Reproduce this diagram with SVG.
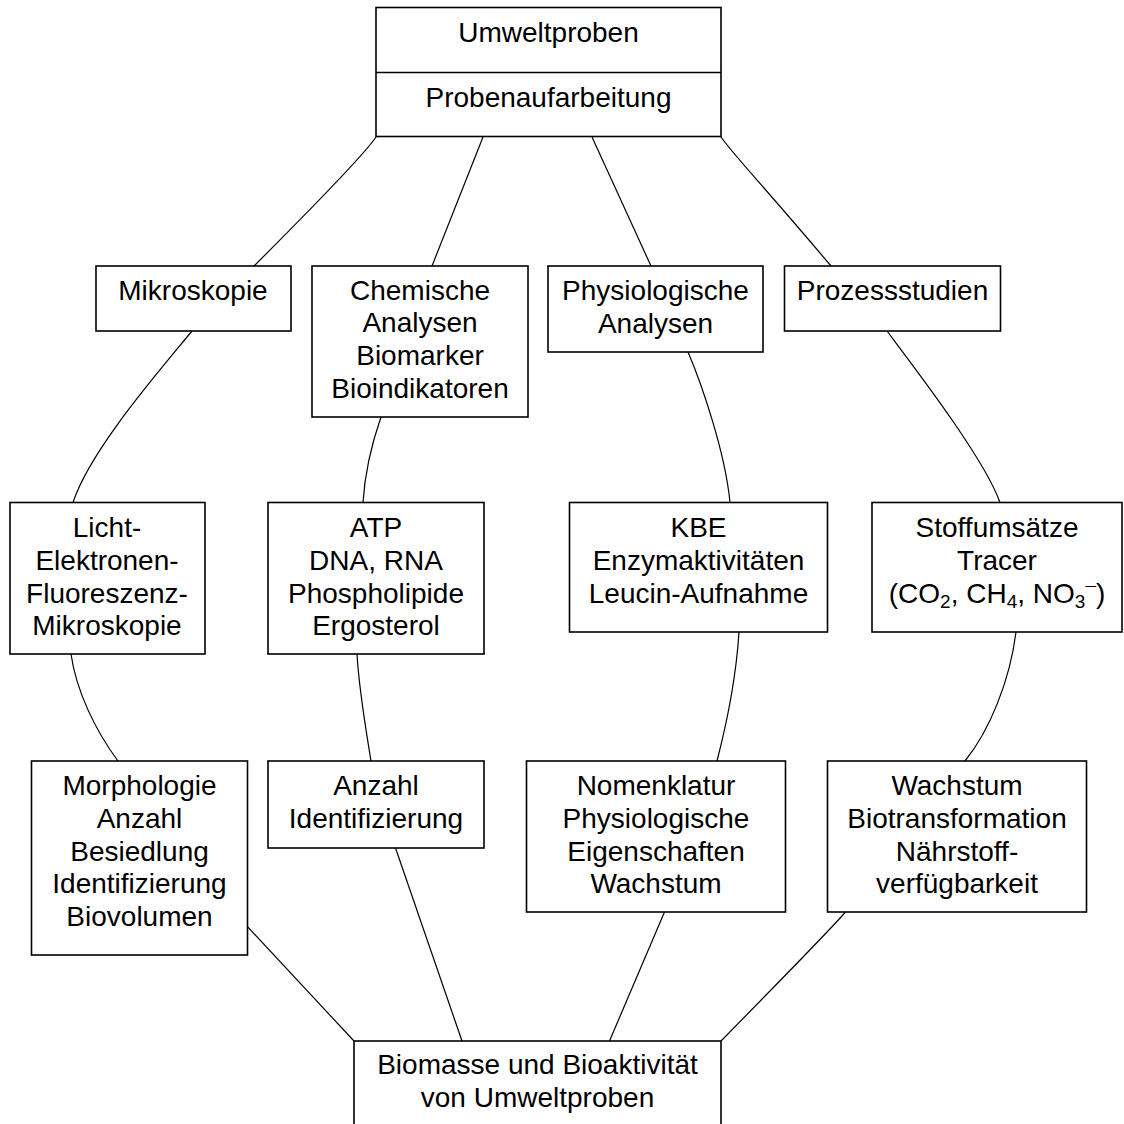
<svg xmlns="http://www.w3.org/2000/svg" width="1124" height="1124" viewBox="0 0 1124 1124">
<style>
.box{fill:#fff;stroke:#000;stroke-width:1.6}
.c{fill:none;stroke:#000;stroke-width:1.2}
.t{font-family:"Liberation Sans",Arial,sans-serif;font-size:28px;fill:#000;text-anchor:middle}
.s{font-size:19px}
</style>
<rect width="1124" height="1124" fill="#fff"/>
<g id="connectors">
<path class="c" d="M376,137 C366,152 330,190 254,266"/>
<path class="c" d="M483,137 L432,266"/>
<path class="c" d="M592,137 L651,266"/>
<path class="c" d="M721,137 C731,152 767,190 831,266"/>
<path class="c" d="M192,331 C160,370 90,450 73,502.5"/>
<path class="c" d="M381,417 C373,440 365,470 363,502.5"/>
<path class="c" d="M688,352 C700,380 725,450 730,502.5"/>
<path class="c" d="M887,331 C920,375 985,460 1000,502.5"/>
<path class="c" d="M71,654 C76,690 95,730 118,761"/>
<path class="c" d="M357,654 C359,690 366,730 371,761"/>
<path class="c" d="M739,632 C736,680 725,730 717,761"/>
<path class="c" d="M1016,632 C1010,680 990,730 965,761"/>
<path class="c" d="M247.5,926.7 L354,1041"/>
<path class="c" d="M395.5,848 L462,1041"/>
<path class="c" d="M664.5,912 L609.5,1041"/>
<path class="c" d="M845.5,912 Q832,928 721,1041"/>
</g>
<g id="n-umweltproben">
<rect class="box" x="376" y="7.5" width="345" height="129"/>
<line x1="376" y1="72.5" x2="721" y2="72.5" stroke="#000" stroke-width="1.6"/>
<text class="t" x="548.5" y="42">Umweltproben</text>
<text class="t" x="548.5" y="107">Probenaufarbeitung</text>
</g>
<g id="n-mikroskopie">
<rect class="box" x="96" y="266" width="195" height="65"/>
<text class="t" x="193" y="300">Mikroskopie</text>
</g>
<g id="n-chemische">
<rect class="box" x="312" y="266" width="216" height="151"/>
<text class="t" x="420" y="299.5">Chemische</text>
<text class="t" x="420" y="332.3">Analysen</text>
<text class="t" x="420" y="365.1">Biomarker</text>
<text class="t" x="420" y="397.9">Bioindikatoren</text>
</g>
<g id="n-physiologische">
<rect class="box" x="548" y="266" width="215" height="86"/>
<text class="t" x="655.5" y="300">Physiologische</text>
<text class="t" x="655.5" y="332.8">Analysen</text>
</g>
<g id="n-prozessstudien">
<rect class="box" x="784.5" y="266" width="216" height="65"/>
<text class="t" x="892.5" y="300">Prozessstudien</text>
</g>
<g id="n-licht">
<rect class="box" x="10" y="502.5" width="195" height="151.5"/>
<text class="t" x="107" y="537">Licht-</text>
<text class="t" x="107" y="569.8">Elektronen-</text>
<text class="t" x="107" y="602.6">Fluoreszenz-</text>
<text class="t" x="107" y="635.4">Mikroskopie</text>
</g>
<g id="n-atp">
<rect class="box" x="268" y="502.5" width="216" height="151.5"/>
<text class="t" x="376" y="537">ATP</text>
<text class="t" x="376" y="569.8">DNA, RNA</text>
<text class="t" x="376" y="602.6">Phospholipide</text>
<text class="t" x="376" y="635.4">Ergosterol</text>
</g>
<g id="n-kbe">
<rect class="box" x="569.5" y="502.5" width="258" height="129.5"/>
<text class="t" x="698.5" y="537">KBE</text>
<text class="t" x="698.5" y="569.8">Enzymaktivitäten</text>
<text class="t" x="698.5" y="602.6">Leucin-Aufnahme</text>
</g>
<g id="n-stoffumsaetze">
<rect class="box" x="872" y="502.5" width="250" height="129.5"/>
<text class="t" x="997" y="537">Stoffumsätze</text>
<text class="t" x="997" y="569.8">Tracer</text>
<text class="t" x="997" y="602.6">(CO<tspan class="s" dy="5">2</tspan><tspan dy="-5">, CH</tspan><tspan class="s" dy="5">4</tspan><tspan dy="-5">, NO</tspan><tspan class="s" dy="5">3</tspan><tspan class="s" dy="-8">¯</tspan><tspan dy="3">)</tspan></text>
</g>
<g id="n-morphologie">
<rect class="box" x="31.5" y="761" width="216" height="194"/>
<text class="t" x="139.5" y="795">Morphologie</text>
<text class="t" x="139.5" y="827.8">Anzahl</text>
<text class="t" x="139.5" y="860.6">Besiedlung</text>
<text class="t" x="139.5" y="893.4">Identifizierung</text>
<text class="t" x="139.5" y="926.2">Biovolumen</text>
</g>
<g id="n-anzahl">
<rect class="box" x="268" y="761" width="216" height="87"/>
<text class="t" x="376" y="795">Anzahl</text>
<text class="t" x="376" y="827.8">Identifizierung</text>
</g>
<g id="n-nomenklatur">
<rect class="box" x="526.5" y="761" width="259" height="151"/>
<text class="t" x="656" y="795">Nomenklatur</text>
<text class="t" x="656" y="827.8">Physiologische</text>
<text class="t" x="656" y="860.6">Eigenschaften</text>
<text class="t" x="656" y="893.4">Wachstum</text>
</g>
<g id="n-wachstum">
<rect class="box" x="827.5" y="761" width="259" height="151"/>
<text class="t" x="957" y="795">Wachstum</text>
<text class="t" x="957" y="827.8">Biotransformation</text>
<text class="t" x="957" y="860.6">Nährstoff-</text>
<text class="t" x="957" y="893.4">verfügbarkeit</text>
</g>
<g id="n-biomasse">
<rect class="box" x="354" y="1041" width="367" height="100"/>
<text class="t" x="537.5" y="1074">Biomasse und Bioaktivität</text>
<text class="t" x="537.5" y="1107">von Umweltproben</text>
</g>
</svg>
